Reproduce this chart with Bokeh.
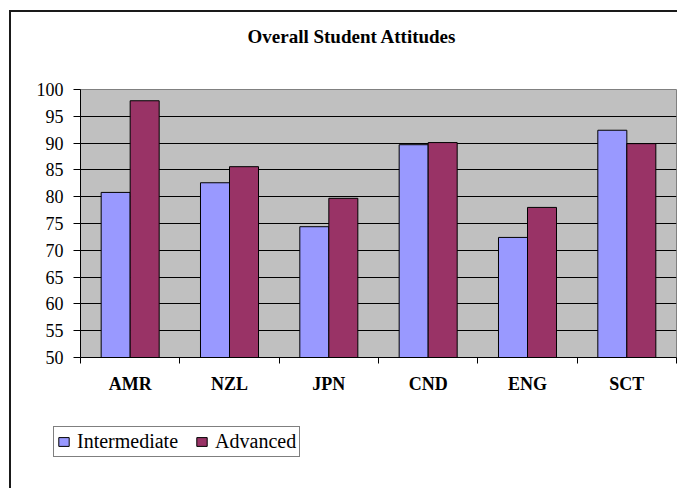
from bokeh.plotting import figure
from bokeh.layouts import column
from bokeh.models import (ColumnDataSource, Range1d, LinearAxis, FixedTicker, SingleIntervalTicker,
                          Legend, LegendItem, Title, Grid)
from bokeh.transform import dodge
from bokeh.embed import file_html
from bokeh.resources import INLINE

categories = ["AMR", "NZL", "JPN", "CND", "ENG", "SCT"]
intermediate = [80.8, 82.6, 74.4, 89.7, 72.4, 92.4]
advanced = [97.9, 85.6, 79.7, 90.1, 78.0, 89.9]
series_names = ["Intermediate", "Advanced"]
series_colors = ["#9999FF", "#993366"]
y_min, y_max, y_step = 50, 100, 5
title_text = "Overall Student Attitudes"

n = len(categories)
centres = [i + 0.5 for i in range(n)]
src = ColumnDataSource(dict(cat=categories, pos=centres,
                            intermediate=intermediate, advanced=advanced))

p = figure(width=666, height=400,
           x_range=Range1d(0, n), y_range=Range1d(y_min, y_max),
           x_axis_location=None, y_axis_location=None, title=None,
           output_backend="svg", toolbar_location=None,
           min_border_left=69, min_border_right=1, min_border_top=77, min_border_bottom=55)
p.center = []
p.background_fill_color = "#C0C0C0"
p.border_fill_color = "white"
p.outline_line_color = "#808080"
p.outline_line_width = 1

# y axis
yaxis = LinearAxis(ticker=SingleIntervalTicker(interval=y_step, num_minor_ticks=0))
yaxis.major_tick_out = 7
yaxis.major_tick_in = 0
yaxis.minor_tick_line_color = None
yaxis.axis_line_color = "black"
yaxis.major_tick_line_color = "black"
yaxis.major_label_text_font = "Liberation Serif"
yaxis.major_label_text_font_size = "18px"
yaxis.major_label_text_color = "black"
yaxis.major_label_standoff = 10
p.add_layout(yaxis, "left")

grid = Grid(dimension=1, ticker=yaxis.ticker, grid_line_color="black", grid_line_width=1)
p.add_layout(grid)

# x axis: ticks at category boundaries, labels at centres
edge_axis = LinearAxis(ticker=FixedTicker(ticks=list(range(n + 1))))
edge_axis.major_tick_out = 6
edge_axis.major_tick_in = 0
edge_axis.minor_tick_line_color = None
edge_axis.axis_line_color = "black"
edge_axis.major_tick_line_color = "black"
edge_axis.major_label_text_font_size = "0px"
edge_axis.major_label_text_color = None
edge_axis.major_label_standoff = 0
p.add_layout(edge_axis, "below")

cat_axis = LinearAxis(ticker=FixedTicker(ticks=centres),
                      major_label_overrides={c: lab for c, lab in zip(centres, categories)})
cat_axis.axis_line_color = None
cat_axis.major_tick_line_color = None
cat_axis.minor_tick_line_color = None
cat_axis.major_tick_out = 0
cat_axis.major_tick_in = 0
cat_axis.major_label_text_font = "Liberation Serif"
cat_axis.major_label_text_font_style = "bold"
cat_axis.major_label_text_font_size = "18px"
cat_axis.major_label_text_color = "black"
cat_axis.major_label_standoff = 10
p.add_layout(cat_axis, "below")

# bars
r1 = p.vbar(x=dodge("pos", -0.146), top="intermediate", bottom=y_min,
            width=0.292, source=src, fill_color=series_colors[0], line_color="black", line_width=1)
r2 = p.vbar(x=dodge("pos", 0.146), top="advanced", bottom=y_min,
            width=0.292, source=src, fill_color=series_colors[1], line_color="black", line_width=1)

# spacer above the frame, then the title
spacer = LinearAxis(ticker=FixedTicker(ticks=[0]))
spacer.major_tick_out = 38
spacer.major_tick_in = 0
spacer.axis_line_color = None
spacer.major_tick_line_color = None
spacer.minor_tick_line_color = None
spacer.major_label_text_font_size = "0px"
spacer.major_label_text_color = None
spacer.major_label_standoff = 0
p.add_layout(spacer, "above")

title = Title(text=title_text, align="left", offset=167,
              text_font="Liberation Serif", text_font_style="bold", text_font_size="19px",
              text_color="black")
p.add_layout(title, "above")

# legend strip below the chart (its bar renderers are hidden, only the legend shows)
p2 = figure(width=666, height=76, x_range=Range1d(0, n), y_range=Range1d(0, 1),
            x_axis_location=None, y_axis_location=None, title=None,
            output_backend="svg", toolbar_location=None, min_border=0)
p2.center = []
p2.outline_line_color = None
p2.background_fill_alpha = 0
p2.border_fill_alpha = 0
p2.styles = {"margin-left": "-69px"}
k1 = p2.vbar(x=dodge("pos", -0.146), top="intermediate", bottom=y_min, width=0.292, source=src,
             fill_color=series_colors[0], line_color="black", line_width=1)
k2 = p2.vbar(x=dodge("pos", 0.146), top="advanced", bottom=y_min, width=0.292, source=src,
             fill_color=series_colors[1], line_color="black", line_width=1)
k1.visible = False
k2.visible = False

legend = Legend(items=[LegendItem(label=series_names[0], renderers=[k1]),
                       LegendItem(label=series_names[1], renderers=[k2])],
                orientation="horizontal", location=(42, 31))
legend.border_line_color = "black"
legend.border_line_width = 1
legend.background_fill_color = "white"
legend.background_fill_alpha = 1
legend.inactive_fill_alpha = 0
legend.label_text_font = "Liberation Serif"
legend.label_text_font_size = "20px"
legend.label_text_color = "black"
legend.glyph_width = 13
legend.glyph_height = 11
legend.label_standoff = 7
legend.spacing = 17
legend.padding = 3
legend.margin = 0
p2.add_layout(legend)

layout = column(p, p2, spacing=0)
layout.styles = {"margin-left": "9px", "margin-top": "10px",
                 "border-left": "2px solid #1a1a1a", "border-top": "2px solid #1a1a1a"}

open("out.html", "w").write(file_html(layout, INLINE))
